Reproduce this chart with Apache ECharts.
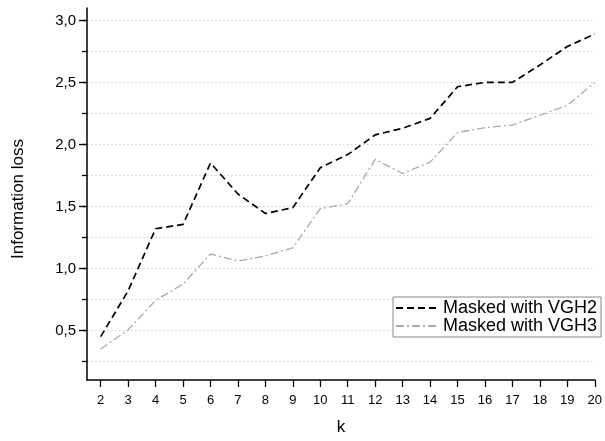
<!DOCTYPE html>
<html>
<head>
<meta charset="utf-8">
<script src="https://cdn.jsdelivr.net/npm/echarts@6/dist/echarts.min.js"></script>
<style>
html,body{margin:0;padding:0;background:#fff;}
#c{width:605px;height:441px;}
</style>
</head>
<body>
<div id="c"></div>
<script>
var kValues = [2,3,4,5,6,7,8,9,10,11,12,13,14,15,16,17,18,19,20];
var vgh2 = [0.45,0.82,1.32,1.355,1.85,1.6,1.443,1.49,1.812,1.918,2.077,2.13,2.21,2.465,2.50,2.50,2.64,2.79,2.89];
var vgh3 = [0.35,0.505,0.742,0.874,1.116,1.06,1.10,1.166,1.483,1.52,1.879,1.765,1.857,2.095,2.135,2.156,2.235,2.314,2.50];
var xTicks = [2,3,4,5,6,7,8,9,10,11,12,13,14,15,16,17,18,19,20];
var yMajorTicks = [0.5,1.0,1.5,2.0,2.5,3.0];
var yMinorTicks = [0.25,0.5,0.75,1.0,1.25,1.5,1.75,2.0,2.25,2.5,2.75,3.0];
var seriesNames = ['Masked with VGH2','Masked with VGH3'];

function pairs(xs, ys){ return xs.map(function(x,i){ return [x, ys[i]]; }); }
var font = '"Liberation Sans", Arial, sans-serif';

var chart = echarts.init(document.getElementById('c'), null, {renderer:'canvas'});
chart.setOption({
  animation: false,
  backgroundColor: '#fff',
  grid: {left: 87, right: 4, top: 8, bottom: 54, containLabel: false},
  legend: {
    orient: 'vertical',
    left: 393, top: 297,
    padding: [2, 4, 2, 2],
    itemGap: 0,
    itemWidth: 43,
    itemHeight: 20,
    borderColor: '#888',
    borderWidth: 1,
    backgroundColor: '#fff',
    itemStyle: {opacity: 0},
    textStyle: {fontFamily: font, fontSize: 18, color: '#000', padding: [0,0,0,-1]},
    data: seriesNames
  },
  xAxis: {
    type: 'value', min: 1.5, max: 20,
    name: 'k', nameLocation: 'middle', nameGap: 39,
    nameTextStyle: {fontFamily: font, fontSize: 17, color: '#000'},
    axisLine: {show: true, onZero: false, lineStyle: {color: '#000', width: 1.5}},
    axisTick: {show: true, customValues: xTicks, length: 7, lineStyle: {color: '#000', width: 1.3}},
    axisLabel: {customValues: xTicks, fontFamily: font, fontSize: 13, color: '#000', margin: 14},
    splitLine: {show: false}
  },
  yAxis: [{
    type: 'value', min: 0.1, max: 3.1, position: 'left',
    name: 'Information loss', nameLocation: 'middle', nameGap: 60,
    nameTextStyle: {fontFamily: font, fontSize: 17, color: '#000', padding: [0, 10, 0, 0]},
    axisLine: {show: true, onZero: false, lineStyle: {color: '#000', width: 1.5}},
    axisTick: {show: true, customValues: yMajorTicks, length: 8, lineStyle: {color: '#000', width: 1.3}},
    axisLabel: {customValues: yMajorTicks, fontFamily: font, fontSize: 15, color: '#000', margin: 11,
      formatter: function(v){ return v.toFixed(1).replace('.', ','); }},
    splitLine: {show: false}
  },{
    type: 'value', min: 0.1, max: 3.1, position: 'left',
    axisLine: {show: false},
    axisTick: {show: true, customValues: yMinorTicks, length: 5, lineStyle: {color: '#000', width: 1.3}},
    axisLabel: {show: false},
    splitLine: {show: true, lineStyle: {color: '#cfcfcf', width: 1, type: [1.5, 2.5]}}
  }],
  series: [{
    name: seriesNames[0], type: 'line', yAxisIndex: 0,
    data: pairs(kValues, vgh2),
    symbol: 'none',
    lineStyle: {color: '#000', width: 1.7, type: [7, 4]},
    itemStyle: {color: '#000'}
  },{
    name: seriesNames[1], type: 'line', yAxisIndex: 0,
    data: pairs(kValues, vgh3),
    symbol: 'none',
    lineStyle: {color: '#a8a8a8', width: 1.3, type: [8, 3, 2, 3]},
    itemStyle: {color: '#a8a8a8'}
  }]
});
</script>
</body>
</html>
